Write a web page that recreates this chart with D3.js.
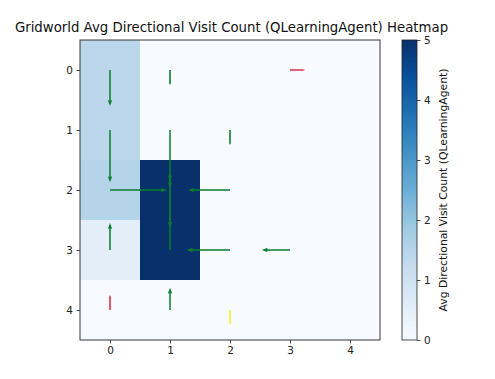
<!DOCTYPE html>
<html><head><meta charset="utf-8">
<script src="https://cdn.jsdelivr.net/npm/d3@7/dist/d3.min.js"></script>
<style>body{margin:0;background:#fff}svg{display:block;font-family:"DejaVu Sans",sans-serif}</style>
</head><body><svg id="c" width="495" height="379"></svg>
<script>
// ---- data ----
const cols = [0, 1, 2, 3, 4];
const rows = [0, 1, 2, 3, 4];
const grid = [
  [1.4, 0, 0, 0, 0],
  [1.4, 0, 0, 0, 0],
  [1.5, 5, 0, 0, 0],
  [0.5, 5, 0, 0, 0],
  [0,   0, 0, 0, 0]
];
// quiver arrows: tail cell (col,row) and displacement (u along x, v along row index)
const arrowCol = [0,    1,    3,    0,    1,    2,    0,    1,    2,    0,    1,    2,    3,    0,    1,    2];
const arrowRow = [0,    0,    0,    1,    1,    1,    2,    2,    2,    3,    3,    3,    3,    4,    4,    4];
const arrowU   = [0,    0,    0.25, 0,    0,    0,    0.95, 0,   -0.7,  0,    0,   -0.72,-0.47, 0,    0,    0];
const arrowV   = [0.6,  0.25, 0,    0.87, 0.97, 0.25, 0,    0.63, 0,   -0.45,-1.3,  0,    0,   -0.25,-0.37, 0.25];
const arrowColor = ["green","green","red","green","green","green","green","green","green","green","green","green","green","red","green","yellow"];
const colorTicks = [0, 1, 2, 3, 4, 5];
const blues = ["#f7fbff","#deebf7","#c6dbef","#9ecae1","#6baed6","#4292c6","#2171b5","#08519c","#08306b"];
const titleText = "Gridworld Avg Directional Visit Count (QLearningAgent) Heatmap";
const cbLabel = "Avg Directional Visit Count (QLearningAgent)";
const colorMap = {green:"#0a7d2c", red:"#e0304c", yellow:"#f2f230"};

// ---- layout ----
const svg = d3.select("#c");
const L = 80, R = 380, T = 40, B = 340;
const x = d3.scaleLinear().domain([-0.5, 4.5]).range([L, R]);
const y = d3.scaleLinear().domain([-0.5, 4.5]).range([T, B]);
const vmin = 0, vmax = 5;
const cmap = d3.scaleLinear()
  .domain(blues.map((_, i) => vmin + (vmax - vmin) * i / (blues.length - 1)))
  .range(blues).clamp(true);

// cells
const cells = [];
rows.forEach(r => cols.forEach(c => cells.push({r, c, v: grid[r][c]})));
svg.append("g").selectAll("rect").data(cells).join("rect")
  .attr("x", d => x(d.c - 0.5)).attr("y", d => y(d.r - 0.5))
  .attr("width", x(1) - x(0) + 0.3).attr("height", y(1) - y(0) + 0.3)
  .attr("fill", d => cmap(d.v));

// arrows
function arrowPath(x0, y0, x1, y1) {
  const dx = x1 - x0, dy = y1 - y0, len = Math.hypot(dx, dy);
  const ux = dx / len, uy = dy / len, px = -uy, py = ux;
  let w = 1.5, hl = 6, hal = 5.2, hw = 4.4;
  if (len < 20) { hl = 2.5; hal = 2.2; hw = 2.2; w = 1.6; }
  const pt = (a, b) => [x0 + ux * a + px * b, y0 + uy * a + py * b];
  const pts = [pt(0, -w/2), pt(len - hal, -w/2), pt(len - hl, -hw/2), pt(len, 0),
               pt(len - hl, hw/2), pt(len - hal, w/2), pt(0, w/2)];
  return "M" + pts.map(p => p[0].toFixed(2) + "," + p[1].toFixed(2)).join("L") + "Z";
}
const arrows = arrowCol.map((c, i) => ({c, r: arrowRow[i], u: arrowU[i], v: arrowV[i], col: arrowColor[i]}));
svg.append("g").selectAll("path").data(arrows).join("path")
  .attr("d", d => arrowPath(x(d.c), y(d.r), x(d.c + d.u), y(d.r + d.v)))
  .attr("fill", d => colorMap[d.col]).attr("stroke", "none");

// frame
svg.append("rect").attr("x", L).attr("y", T).attr("width", R - L).attr("height", B - T)
  .attr("fill", "none").attr("stroke", "#222").attr("stroke-width", 0.9);

// axes
const fmt = d3.format("d");
const xAxis = d3.axisBottom(x).tickValues(cols).tickSize(3.5).tickPadding(3.5).tickFormat(fmt);
const yAxis = d3.axisLeft(y).tickValues(rows).tickSize(3.5).tickPadding(3.5).tickFormat(fmt);
const gx = svg.append("g").attr("transform", `translate(0,${B})`).call(xAxis);
const gy = svg.append("g").attr("transform", `translate(${L},0)`).call(yAxis);
[gx, gy].forEach(g => {
  g.select(".domain").remove();
  g.selectAll("line").attr("stroke", "#222").attr("stroke-width", 0.8);
  g.selectAll("text").attr("font-size", 10.5).attr("fill", "#222").attr("font-family", "DejaVu Sans");
});

// title
svg.append("text").attr("x", 231.5).attr("y", 32).attr("text-anchor", "middle")
  .attr("font-size", 13.3).attr("fill", "#111").text(titleText);

// colorbar
const cbX = 402, cbW = 15;
const cy = d3.scaleLinear().domain([vmin, vmax]).range([B, T]);
const defs = svg.append("defs");
const grad = defs.append("linearGradient").attr("id", "cbg").attr("x1", 0).attr("y1", 1).attr("x2", 0).attr("y2", 0);
blues.forEach((col, i) => grad.append("stop").attr("offset", i / (blues.length - 1)).attr("stop-color", col));
svg.append("rect").attr("x", cbX).attr("y", T).attr("width", cbW).attr("height", B - T)
  .attr("fill", "url(#cbg)").attr("stroke", "#222").attr("stroke-width", 0.8);
const cAxis = d3.axisRight(cy).tickValues(colorTicks).tickSize(3.5).tickPadding(3.5).tickFormat(fmt);
const gc = svg.append("g").attr("transform", `translate(${cbX + cbW},0)`).call(cAxis);
gc.select(".domain").remove();
gc.selectAll("line").attr("stroke", "#222").attr("stroke-width", 0.8);
gc.selectAll("text").attr("font-size", 10.5).attr("fill", "#222").attr("font-family", "DejaVu Sans");
svg.append("text").attr("transform", `translate(447,${(T + B) / 2}) rotate(-90)`)
  .attr("text-anchor", "middle").attr("font-size", 10.8).attr("fill", "#111").text(cbLabel);
</script></body></html>
